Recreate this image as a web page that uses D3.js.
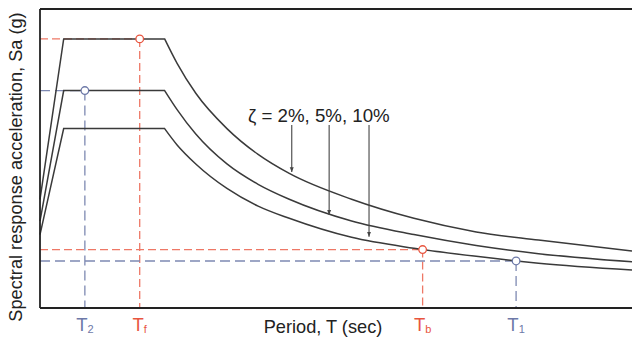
<!DOCTYPE html>
<html>
  <head>
    <meta charset="utf-8">
    <title>Design response spectrum</title>
    <script src="https://d3js.org/d3.v7.min.js"></script>
    <style>
      body { margin: 0; background: #fff; }
      svg text { font-family: "Liberation Sans", Arial, Helvetica, sans-serif; }
    </style>
  </head>
  <body>
    <svg id="chart" width="632" height="344"></svg>
    <script>
      // damping ratios, one curve each
      const dampings = ["2%", "5%", "10%"];
      // rising branch: period (sec) and Sa (g) at T = 0 and plateau start
      const risePeriods = [0, 0.19];
      const riseValues = [
        [0.40, 0.99],
        [0.32, 0.80],
        [0.27, 0.66]
      ];
      // plateau ends / descending branch
      const fallPeriods = [1.0, 1.1, 1.25, 1.5, 1.75, 2.0, 2.5, 3.0, 3.5, 4.0, 4.75];
      const fallValues = [
        [0.99, 0.90, 0.79, 0.66, 0.565, 0.495, 0.40, 0.33, 0.28, 0.25, 0.21],
        [0.80, 0.73, 0.64, 0.53, 0.455, 0.40, 0.32, 0.27, 0.23, 0.20, 0.17],
        [0.66, 0.60, 0.53, 0.44, 0.375, 0.33, 0.26, 0.22, 0.19, 0.165, 0.14]
      ];
      // marked periods
      const markNames = ["T2", "Tf", "Tb", "T1"];
      const markMain = ["T", "T", "T", "T"];
      const markSub = ["2", "f", "b", "1"];
      const markPeriods = [0.36, 0.80, 3.07, 3.82];
      const markValues = [0.80, 0.99, 0.215, 0.173];
      const markColors = ["blue", "red", "red", "blue"];
      // arrows from the damping label
      const arrowPeriods = [2.02, 2.32, 2.64];
      const arrowTips = [0.50, 0.342, 0.262];
      const arrowTop = 0.673;

      const colors = { red: "#E8553F", blue: "#6D79A8" };
      const dashColors = { red: "#EE7866", blue: "#7E89B2" };

      svg = d3.select("#chart");
      margin = { left: 40, top: 9, right: 0, bottom: 36 };
      width = 632;
      height = 344;

      x = d3.scaleLinear().domain([0, 4.75]).range([margin.left, width - margin.right]);
      y = d3.scaleLinear().domain([0, 1.1]).range([height - margin.bottom, margin.top]);

      // arrowhead
      svg.append("defs").append("marker")
          .attr("id", "head")
          .attr("viewBox", "0 0 10 10")
          .attr("refX", 10)
          .attr("refY", 5)
          .attr("markerWidth", 4.5)
          .attr("markerHeight", 4.5)
          .attr("orient", "auto")
        .append("path")
          .attr("d", "M0,1 L10,5 L0,9 Z")
          .attr("fill", "#444");

      // dashed guide lines
      guides = svg.append("g");
      markPeriods.forEach(function(t, i) {
        let c = dashColors[markColors[i]];
        let dash = markColors[i] === "red" ? "8,4" : "10,5";
        guides.append("line")
          .attr("x1", x(0)).attr("x2", x(t))
          .attr("y1", y(markValues[i])).attr("y2", y(markValues[i]))
          .attr("stroke", c).attr("stroke-width", 1.3)
          .attr("stroke-dasharray", dash);
        guides.append("line")
          .attr("x1", x(t)).attr("x2", x(t))
          .attr("y1", y(markValues[i])).attr("y2", y(0))
          .attr("stroke", c).attr("stroke-width", 1.3)
          .attr("stroke-dasharray", dash);
      });

      // spectrum curves
      lineRise = d3.line().x(d => x(d[0])).y(d => y(d[1]));
      lineFall = d3.line().x(d => x(d[0])).y(d => y(d[1])).curve(d3.curveMonotoneX);
      dampings.forEach(function(d, i) {
        let rise = risePeriods.map((t, j) => [t, riseValues[i][j]]).concat([[fallPeriods[0], fallValues[i][0]]]);
        let fall = fallPeriods.map((t, j) => [t, fallValues[i][j]]);
        svg.append("path")
          .attr("d", lineRise(rise) + lineFall(fall).replace(/^M/, "L"))
          .attr("fill", "none")
          .attr("stroke", "#3a3a3a")
          .attr("stroke-width", 1.5);
      });

      // frame
      frame = svg.append("g").attr("stroke", "#222").attr("stroke-width", 1.8);
      frame.append("line").attr("x1", x(0)).attr("x2", x(0)).attr("y1", y(1.1)).attr("y2", y(0));
      frame.append("line").attr("x1", x(0)).attr("x2", width).attr("y1", y(1.1)).attr("y2", y(1.1));
      frame.append("line").attr("x1", x(0)).attr("x2", width).attr("y1", y(0)).attr("y2", y(0));

      // marker circles
      svg.selectAll(".mark")
          .data(markPeriods)
        .enter().append("circle")
          .attr("cx", d => x(d))
          .attr("cy", (d, i) => y(markValues[i]))
          .attr("r", 3.8)
          .attr("fill", "#fff")
          .attr("stroke", (d, i) => colors[markColors[i]])
          .attr("stroke-width", 1.3);

      // period labels with subscripts
      markPeriods.forEach(function(t, i) {
        let label = svg.append("text")
          .attr("x", x(t))
          .attr("y", 331)
          .attr("text-anchor", "middle")
          .attr("font-size", 18.5)
          .attr("fill", colors[markColors[i]]);
        label.append("tspan").text(markMain[i]);
        label.append("tspan")
          .attr("font-size", 11)
          .attr("dy", 2)
          .text(markSub[i]);
      });

      // damping annotation
      svg.append("text")
        .attr("x", 248)
        .attr("y", 122)
        .attr("font-size", 18.7)
        .attr("fill", "#222")
        .text("\u03B6 = " + dampings.join(", "));
      arrowPeriods.forEach(function(t, i) {
        svg.append("line")
          .attr("x1", x(t)).attr("x2", x(t))
          .attr("y1", y(arrowTop)).attr("y2", y(arrowTips[i]))
          .attr("stroke", "#444")
          .attr("stroke-width", 1.1)
          .attr("marker-end", "url(#head)");
      });

      // axis titles
      svg.append("text")
        .attr("x", 323)
        .attr("y", 333)
        .attr("text-anchor", "middle")
        .attr("font-size", 18.2)
        .attr("fill", "#222")
        .text("Period, T (sec)");
      svg.append("text")
        .attr("transform", "translate(22,167) rotate(-90)")
        .attr("text-anchor", "middle")
        .attr("font-size", 18.2)
        .attr("fill", "#222")
        .text("Spectral response acceleration, Sa (g)");
    </script>
  </body>
</html>
